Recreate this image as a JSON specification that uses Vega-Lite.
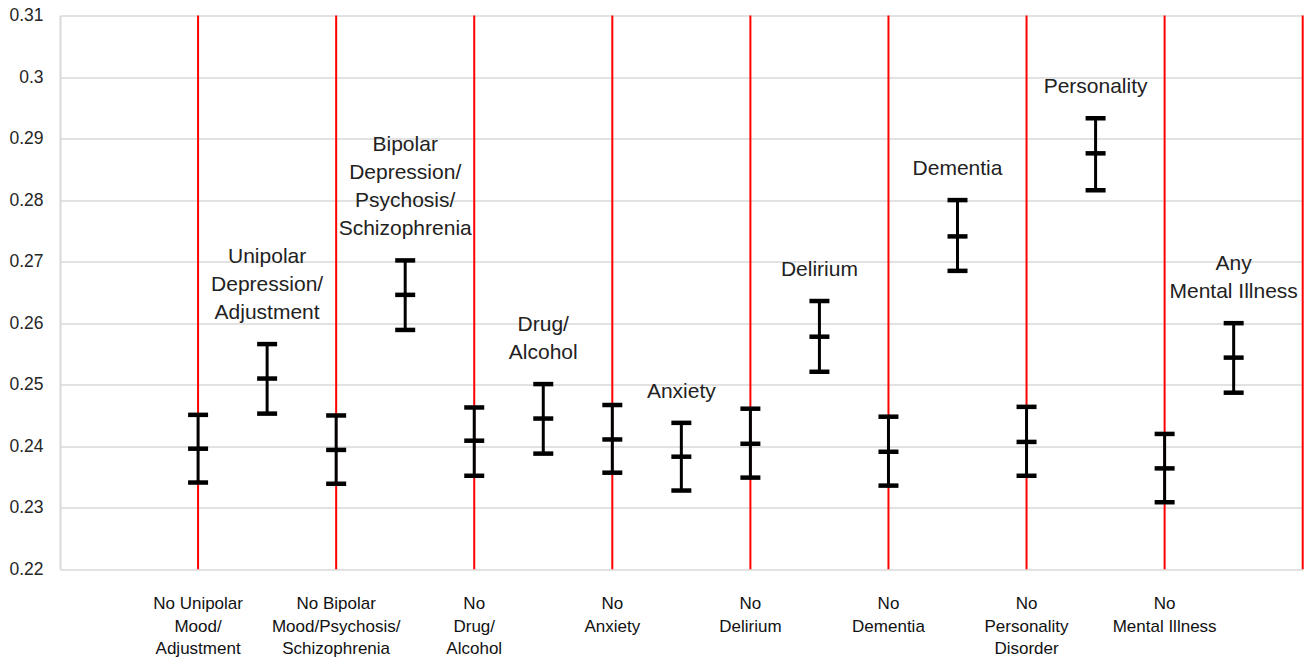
{
  "$schema": "https://vega.github.io/schema/vega-lite/v6.json",
  "autosize": {"type": "none"},
  "width": 1242.7,
  "height": 553.8,
  "padding": {"left": 60, "top": 15.5, "right": 8.3, "bottom": 89.7},
  "background": "white",
  "config": {
    "view": {"stroke": null},
    "font": "Liberation Sans"
  },
  "datasets": {
    "bars": [
      {"slot": 2, "kind": "no", "label": "No Unipolar\nMood/\nAdjustment", "lo": 0.2341, "mid": 0.2396, "hi": 0.2451},
      {"slot": 3, "kind": "cond", "label": "Unipolar\nDepression/\nAdjustment", "lo": 0.2453, "mid": 0.2510, "hi": 0.2566},
      {"slot": 4, "kind": "no", "label": "No Bipolar\nMood/Psychosis/\nSchizophrenia", "lo": 0.2339, "mid": 0.2394, "hi": 0.2450},
      {"slot": 5, "kind": "cond", "label": "Bipolar\nDepression/\nPsychosis/\nSchizophrenia", "lo": 0.2589, "mid": 0.2646, "hi": 0.2702},
      {"slot": 6, "kind": "no", "label": "No\nDrug/\nAlcohol", "lo": 0.2352, "mid": 0.2409, "hi": 0.2463},
      {"slot": 7, "kind": "cond", "label": "Drug/\nAlcohol", "lo": 0.2388, "mid": 0.2445, "hi": 0.2501},
      {"slot": 8, "kind": "no", "label": "No\nAnxiety", "lo": 0.2357, "mid": 0.2411, "hi": 0.2467},
      {"slot": 9, "kind": "cond", "label": "Anxiety", "lo": 0.2328, "mid": 0.2383, "hi": 0.2438},
      {"slot": 10, "kind": "no", "label": "No\nDelirium", "lo": 0.2349, "mid": 0.2404, "hi": 0.2461},
      {"slot": 11, "kind": "cond", "label": "Delirium", "lo": 0.2521, "mid": 0.2578, "hi": 0.2636},
      {"slot": 12, "kind": "no", "label": "No\nDementia", "lo": 0.2336, "mid": 0.2391, "hi": 0.2448},
      {"slot": 13, "kind": "cond", "label": "Dementia", "lo": 0.2685, "mid": 0.2741, "hi": 0.2800},
      {"slot": 14, "kind": "no", "label": "No\nPersonality\nDisorder", "lo": 0.2352, "mid": 0.2407, "hi": 0.2464},
      {"slot": 15, "kind": "cond", "label": "Personality", "lo": 0.2816, "mid": 0.2876, "hi": 0.2933},
      {"slot": 16, "kind": "no", "label": "No\nMental Illness", "lo": 0.2309, "mid": 0.2364, "hi": 0.2420},
      {"slot": 17, "kind": "cond", "label": "Any\nMental Illness", "lo": 0.2487, "mid": 0.2544, "hi": 0.2600}
    ],
    "dividers": [
      {"slot": 2}, {"slot": 4}, {"slot": 6}, {"slot": 8}, {"slot": 10},
      {"slot": 12}, {"slot": 14}, {"slot": 16}, {"slot": 18}
    ]
  },
  "layer": [
    {
      "data": {"name": "bars"},
      "mark": {"type": "rule", "opacity": 0},
      "encoding": {
        "x": {
          "field": "slot", "type": "quantitative",
          "scale": {"domain": [0, 18], "nice": false, "zero": false},
          "axis": null
        },
        "y": {
          "field": "mid", "type": "quantitative",
          "scale": {"domain": [0.22, 0.31], "nice": false, "zero": false},
          "axis": {
            "title": null,
            "values": [0.22, 0.23, 0.24, 0.25, 0.26, 0.27, 0.28, 0.29, 0.3, 0.31],
            "format": ".2~f",
            "grid": true,
            "gridColor": "#d9d9d9",
            "gridWidth": 1.5,
            "domain": true,
            "domainColor": "#d9d9d9",
            "domainWidth": 2,
            "ticks": false,
            "labelPadding": 17,
            "labelFontSize": 17.5,
            "labelColor": "#262626",
            "labelFont": "Liberation Sans"
          }
        }
      }
    },
    {
      "data": {"name": "dividers"},
      "mark": {"type": "rule", "color": "#ff0000", "strokeWidth": 2},
      "encoding": {
        "x": {"field": "slot", "type": "quantitative"}
      }
    },
    {
      "data": {"name": "bars"},
      "mark": {"type": "rule", "color": "#000000", "strokeWidth": 3},
      "encoding": {
        "x": {"field": "slot", "type": "quantitative"},
        "y": {"field": "lo", "type": "quantitative"},
        "y2": {"field": "hi"}
      }
    },
    {
      "data": {"name": "bars"},
      "transform": [{"fold": ["lo", "mid", "hi"], "as": ["which", "val"]}],
      "mark": {"type": "tick", "orient": "horizontal", "color": "#000000", "size": 20, "thickness": 4.5, "opacity": 1},
      "encoding": {
        "x": {"field": "slot", "type": "quantitative"},
        "y": {"field": "val", "type": "quantitative"}
      }
    },
    {
      "data": {"name": "bars"},
      "transform": [{"filter": "datum.kind === 'cond'"}],
      "mark": {"type": "text", "lineBreak": "\n", "baseline": "bottom", "align": "center", "dy": {"expr": "-21 - 28 * (length(split(datum.label, '\\n')) - 1)"}, "fontSize": 21, "lineHeight": 28, "color": "#222222", "font": "Liberation Sans"},
      "encoding": {
        "x": {"field": "slot", "type": "quantitative"},
        "y": {"field": "hi", "type": "quantitative"},
        "text": {"field": "label"}
      }
    },
    {
      "data": {"name": "bars"},
      "transform": [{"filter": "datum.kind === 'no'"}],
      "mark": {"type": "text", "lineBreak": "\n", "baseline": "top", "align": "center", "dy": 27, "fontSize": 17, "lineHeight": 22.5, "color": "#111111", "font": "Liberation Sans"},
      "encoding": {
        "x": {"field": "slot", "type": "quantitative"},
        "y": {"datum": 0.22, "type": "quantitative"},
        "text": {"field": "label"}
      }
    }
  ]
}
